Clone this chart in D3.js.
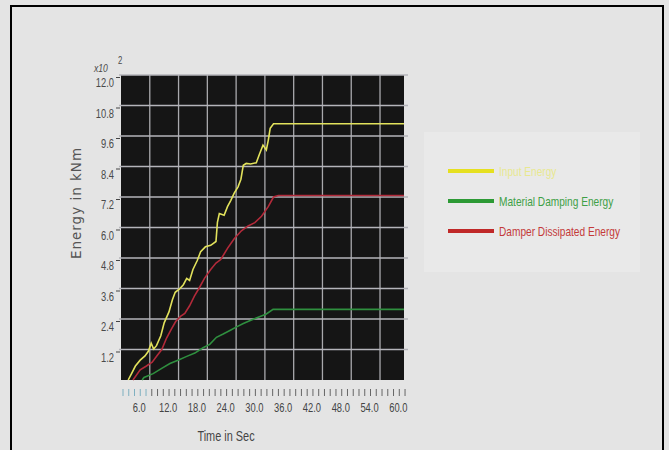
<!DOCTYPE html>
<html><head><meta charset="utf-8">
<script src="https://cdn.jsdelivr.net/npm/d3@7/dist/d3.min.js"></script>
<style>
html,body{margin:0;padding:0;background:#e4e4e4;}
svg{display:block;}
</style></head>
<body><svg id="c" width="669" height="450"></svg>
<script>
// ---- data ----
const xTicks = [6.0, 12.0, 18.0, 24.0, 30.0, 36.0, 42.0, 48.0, 54.0, 60.0];
const yTicks = [1.2, 2.4, 3.6, 4.8, 6.0, 7.2, 8.4, 9.6, 10.8, 12.0];
const seriesNames = ["Input Energy", "Material Damping Energy", "Damper Dissipated Energy"];

const inputT = [1.5,2.2,3.0,4.0,5.0,5.7,6.3,6.8,7.4,8.3,9.0,10.0,10.7,11.3,12.2,13.0,13.7,14.3,15.0,15.9,16.6,17.6,18.7,19.8,20.1,20.5,21.5,22.2,22.9,23.6,24.4,25.0,25.5,26.1,27.0,28.2,28.9,29.6,30.3,30.7,31.1,31.8,59.0];
const inputE = [0,0.25,0.55,0.78,0.95,1.13,1.45,1.22,1.35,1.74,2.25,2.68,3.15,3.45,3.58,3.75,4.0,3.92,4.35,4.7,5.05,5.24,5.3,5.45,6.2,6.55,6.48,6.82,7.07,7.35,7.6,7.9,8.45,8.52,8.5,8.55,8.9,9.24,9.05,9.43,9.9,10.08,10.08];

const materialT = [4.4,4.8,6.7,8.4,10.2,12.0,13.7,15.4,17.1,18.5,19.9,21.3,22.7,24.1,25.5,27.2,29.0,30.3,31.7,59.0];
const materialE = [0,0.1,0.25,0.45,0.65,0.79,0.93,1.06,1.27,1.4,1.68,1.81,1.95,2.09,2.22,2.36,2.5,2.6,2.78,2.78];

const damperT = [2.5,4.0,5.3,6.5,7.5,8.5,9.5,10.5,11.4,12.4,13.3,14.3,15.3,16.3,17.4,18.7,19.8,20.8,22.2,23.6,25.1,26.5,27.9,29.3,30.7,31.8,32.8,59.0];
const damperE = [0,0.4,0.55,0.7,0.95,1.2,1.65,2.0,2.3,2.5,2.62,2.92,3.3,3.62,4.0,4.35,4.6,4.74,5.18,5.56,5.87,6.06,6.19,6.44,6.82,7.2,7.26,7.26];

// ---- layout ----
const svg = d3.select("#c");
const L = 121, R = 404, T = 75, B = 380;
const SX = 0.78; // horizontal squeeze for narrow lettering
const FONT = "Liberation Sans, Arial, sans-serif";
const x = d3.scaleLinear().domain([0, 59]).range([L, R]);
const y = d3.scaleLinear().domain([0, 12]).range([B, T]);

function narrowText(parent, px, py, str, size, fill, anchor){
  return parent.append("text")
    .attr("transform",`translate(${px},${py}) scale(${SX},1)`)
    .attr("font-family",FONT).attr("font-size",size).attr("fill",fill)
    .attr("text-anchor",anchor||"start").text(str);
}

// frame
svg.append("path").attr("d","M11,450 V6 H663 V450").attr("fill","none").attr("stroke","#000").attr("stroke-width",2);

// plot background
svg.append("rect").attr("x",L).attr("y",T).attr("width",R-L).attr("height",B-T).attr("fill","#151515");

// grid
svg.append("g").selectAll("line").data(xTicks.filter(v=>v<59)).join("line")
  .attr("x1",d=>x(d)).attr("x2",d=>x(d)).attr("y1",T).attr("y2",B)
  .attr("stroke","#a9a9ad").attr("stroke-width",1.3);
svg.append("g").selectAll("line").data(yTicks).join("line")
  .attr("x1",L-2).attr("x2",R+4).attr("y1",d=>y(d)).attr("y2",d=>y(d))
  .attr("stroke","#b4b4ba").attr("stroke-width",1.6);

// y axis labels
const yAx = d3.axisLeft(y).tickValues(yTicks).tickSize(4).tickFormat(d3.format(".1f"));
const gy = svg.append("g").attr("transform",`translate(${L},0)`).call(yAx);
gy.select(".domain").remove();
gy.selectAll(".tick line").attr("stroke","#444").attr("transform","translate(-1,2)");
gy.selectAll("text").attr("font-family",FONT).attr("font-size",12).attr("fill","#4a4a4a")
  .attr("x",-7/SX).attr("dy","1.0em").attr("transform",`scale(${SX},1)`);

// x10^2
narrowText(svg, 94, 72, "x10", 11, "#4a4a4a").attr("font-style","italic");
narrowText(svg, 118, 64, "2", 10, "#4a4a4a");

// x minor ticks
const minor = d3.range(0, 59, 1.2);
svg.append("g").selectAll("line").data(minor).join("line")
  .attr("x1",d=>x(d)+2).attr("x2",d=>x(d)+2).attr("y1",389).attr("y2",396)
  .attr("stroke",d=>d<5?"#7fb0c0":"#666").attr("stroke-width",1);

// x axis labels
const xAx = d3.axisBottom(x).tickValues(xTicks).tickSize(0).tickFormat(d3.format(".1f"));
const gx = svg.append("g").attr("transform",`translate(0,${B})`).call(xAx);
gx.select(".domain").remove();
gx.selectAll(".tick text").attr("font-family",FONT).attr("font-size",12).attr("fill","#444")
  .attr("y",null).attr("dy",null)
  .attr("transform",`translate(-11,32) scale(${SX},1)`);

// axis titles
svg.append("text").attr("transform","translate(81,203) rotate(-90)").attr("text-anchor","middle")
  .attr("font-family","DejaVu Sans, sans-serif").attr("font-size",13.5).attr("letter-spacing",1)
  .attr("fill","#555").text("Energy in kNm");
narrowText(svg, 226, 441, "Time in Sec", 14, "#444", "middle");

// lines
const line = d3.line().x(d=>x(d[0])).y(d=>y(d[1]));
const series = [
  {name:seriesNames[2], t:damperT, e:damperE, color:"#b22a3a"},
  {name:seriesNames[1], t:materialT, e:materialE, color:"#2f8f3f"},
  {name:seriesNames[0], t:inputT, e:inputE, color:"#e2e25c"}
];
series.forEach(s=>{
  svg.append("path").datum(s.t.map((t,i)=>[t,s.e[i]]))
    .attr("d",line).attr("fill","none").attr("stroke",s.color).attr("stroke-width",1.6);
});

// legend
svg.append("rect").attr("x",424).attr("y",132).attr("width",216).attr("height",140).attr("fill","#e9e9e9");
const leg = [
  {name:seriesNames[0], lc:"#e6e020", tc:"#e8e890", y:171},
  {name:seriesNames[1], lc:"#2d9a35", tc:"#3ea046", y:201},
  {name:seriesNames[2], lc:"#c02828", tc:"#c43a3a", y:231}
];
const lg = svg.append("g");
leg.forEach(d=>{
  lg.append("line").attr("x1",448).attr("x2",494).attr("y1",d.y).attr("y2",d.y).attr("stroke",d.lc).attr("stroke-width",4);
  narrowText(lg, 499, d.y+5, d.name, 13, d.tc);
});
</script></body></html>
